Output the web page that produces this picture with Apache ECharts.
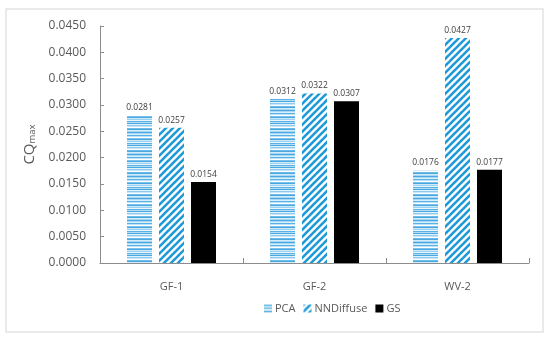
<!DOCTYPE html>
<html>
<head>
<meta charset="utf-8">
<script src="https://cdn.jsdelivr.net/npm/echarts@6/dist/echarts.min.js"></script>
<style>html,body{margin:0;padding:0;background:#fff}#c{width:550px;height:342px}</style>
</head>
<body>
<div id="c"></div>
<script>
const categories = ['GF-1', 'GF-2', 'WV-2'];
const seriesNames = ['PCA', 'NNDiffuse', 'GS'];
const pcaValues = [0.0281, 0.0312, 0.0176];
const nndiffuseValues = [0.0257, 0.0322, 0.0427];
const gsValues = [0.0154, 0.0307, 0.0177];

function pcaPattern() {
  const c = document.createElement('canvas');
  const shades = ['#4aa8e0','#a8d8f3','#d8eefa','#5ab1e4','#bfe2f7','#ffffff','#7cc2ec','#4aa8e0','#cfe9f9','#9dd1f1','#eaf5fc','#5ab1e4','#b4ddf5','#4aa8e0','#e2f2fb','#8ccaef','#c8e6f8','#ffffff','#6ebbe8','#4aa8e0','#d4ecf9','#a8d8f3'];
  c.width = 4; c.height = shades.length;
  const g = c.getContext('2d');
  shades.forEach((s, i) => { g.fillStyle = s; g.fillRect(0, i, 4, 1); });
  return c;
}
function diagPattern() {
  const c = document.createElement('canvas');
  const n = 7;
  c.width = n; c.height = n;
  const g = c.getContext('2d');
  g.fillStyle = '#ffffff'; g.fillRect(0, 0, n, n);
  g.strokeStyle = '#1f9ad8'; g.lineWidth = 2.6;
  for (let o = -n; o <= n; o += n) {
    g.beginPath(); g.moveTo(o - 1, n + 1); g.lineTo(o + n + 1, -1); g.stroke();
  }
  return c;
}

const chart = echarts.init(document.getElementById('c'), null, {renderer: 'canvas'});
const labelCfg = {show: true, position: 'top', distance: 3, fontSize: 8.5, color: '#404040', fontFamily: 'Open Sans', formatter: p => p.value.toFixed(4)};
const mk = (name, data, color) => ({
  name, type: 'bar', data, barWidth: 25, barGap: '28%',
  itemStyle: {color}, label: labelCfg
});
chart.setOption({
  animation: false,
  backgroundColor: '#fff',
  graphic: [{type: 'rect', shape: {x: 6, y: 9, width: 537, height: 323}, style: {fill: 'none', stroke: '#e3e3e3', lineWidth: 1.5}, silent: true}],
  grid: {left: 100, right: 21, top: 26, bottom: 79},
  legend: {
    data: seriesNames, bottom: 23, left: 259, itemWidth: 8, itemHeight: 8, itemGap: 8,
    textStyle: {fontSize: 11, color: '#595959', fontFamily: 'Open Sans', padding: [0, 0, 0, -2]}, icon: 'rect'
  },
  xAxis: {
    type: 'category', data: categories,
    axisLine: {lineStyle: {color: '#8c8c8c', width: 1}},
    axisTick: {show: true, inside: true, length: 5, lineStyle: {color: '#8c8c8c'}},
    axisLabel: {fontSize: 11, color: '#595959', margin: 18, fontFamily: 'Open Sans'}
  },
  yAxis: {
    type: 'value', min: 0, max: 0.045, interval: 0.005,
    name: 'CQ{sub|max}', nameLocation: 'middle', nameRotate: 90, nameGap: 58,
    nameTextStyle: {fontSize: 15, color: '#595959', fontFamily: 'Open Sans', rich: {sub: {fontSize: 9.5, color: '#595959', fontFamily: 'Open Sans', padding: [6, 0, 0, 0]}}},
    splitLine: {show: false},
    axisLine: {show: true, lineStyle: {color: '#8c8c8c', width: 1}},
    axisTick: {show: true, inside: true, length: 4, lineStyle: {color: '#8c8c8c'}},
    axisLabel: {fontSize: 12, color: '#595959', margin: 14, fontFamily: 'Open Sans', formatter: v => v.toFixed(4)}
  },
  series: [
    mk(seriesNames[0], pcaValues, {image: pcaPattern(), repeat: 'repeat'}),
    mk(seriesNames[1], nndiffuseValues, {image: diagPattern(), repeat: 'repeat'}),
    mk(seriesNames[2], gsValues, '#000000')
  ]
});
</script>
</body>
</html>
